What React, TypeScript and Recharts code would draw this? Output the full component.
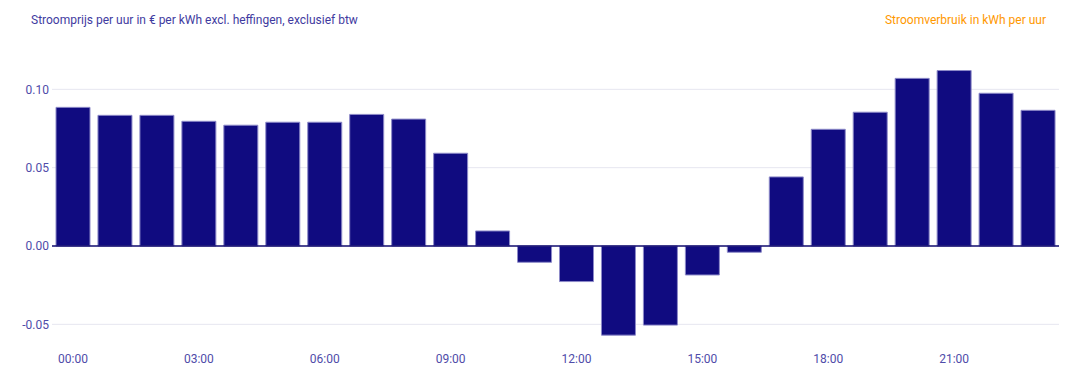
import React from 'react';
import { BarChart, Bar, XAxis, YAxis, CartesianGrid, ReferenceLine } from 'recharts';

// uurprijzen
const hours = [
  '00:00', '01:00', '02:00', '03:00', '04:00', '05:00', '06:00', '07:00',
  '08:00', '09:00', '10:00', '11:00', '12:00', '13:00', '14:00', '15:00',
  '16:00', '17:00', '18:00', '19:00', '20:00', '21:00', '22:00', '23:00',
];
const prices = [
  0.0885, 0.0834, 0.0834, 0.0796, 0.0771, 0.079, 0.079, 0.084,
  0.081, 0.0592, 0.0096, -0.0104, -0.0227, -0.0569, -0.0505, -0.0185,
  -0.004, 0.0441, 0.0745, 0.0854, 0.107, 0.112, 0.0975, 0.0866,
];
const xTicks = ['00:00', '03:00', '06:00', '09:00', '12:00', '15:00', '18:00', '21:00'];
const yTicks = [-0.05, 0, 0.05, 0.1];
const yDomain = [-0.06, 0.12];

const data = hours.map((h, i) => ({ hour: h, price: prices[i] }));

const tickColor = '#4f4ca9';

// only grid lines at the labelled ticks (no line at the top edge)
const gridRows = ({ yAxis, offset }: any) => {
  const rows = yTicks.filter((t) => t !== 0);
  if (yAxis && typeof yAxis.scale === 'function') return rows.map((t) => yAxis.scale(t));
  if (!offset) return [];
  const [lo, hi] = yDomain;
  return rows.map((t) => offset.top + (offset.height * (hi - t)) / (hi - lo));
};

export default function App() {
  return (
    <div
      style={{
        position: 'absolute',
        left: 0,
        top: 0,
        width: 1069,
        height: 382,
        fontFamily: 'Roboto, sans-serif',
        background: '#fff',
      }}
    >
      <div style={{ position: 'absolute', left: 31, top: 13, fontSize: 12, color: '#3f3b9f' }}>
        Stroomprijs per uur in € per kWh excl. heffingen, exclusief btw
      </div>
      <div style={{ position: 'absolute', right: 23, top: 13, fontSize: 12, color: '#ff9800' }}>
        Stroomverbruik in kWh per uur
      </div>
      <BarChart
        width={1069}
        height={382}
        data={data}
        margin={{ top: 58, right: 10, bottom: 12, left: 0 }}
        barCategoryGap={4}
      >
        <CartesianGrid vertical={false} stroke="#e6e6f0" horizontalCoordinatesGenerator={gridRows} />
        <XAxis
          dataKey="hour"
          ticks={xTicks}
          interval={0}
          axisLine={false}
          tickLine={false}
          tickSize={0}
          tickMargin={14}
          height={30}
          tick={{ fontSize: 12, fill: tickColor }}
        />
        <YAxis
          domain={yDomain}
          ticks={yTicks}
          width={52}
          axisLine={false}
          tickLine={false}
          tickSize={0}
          tickMargin={3}
          tickFormatter={(v: number) => v.toFixed(2)}
          tick={{ fontSize: 12, fill: tickColor }}
        />
        <Bar dataKey="price" fill="#100b80" stroke="#8d8ac8" strokeWidth={1} isAnimationActive={false} />
        <ReferenceLine y={0} stroke="#100b6e" strokeWidth={1.5} />
      </BarChart>
    </div>
  );
}
